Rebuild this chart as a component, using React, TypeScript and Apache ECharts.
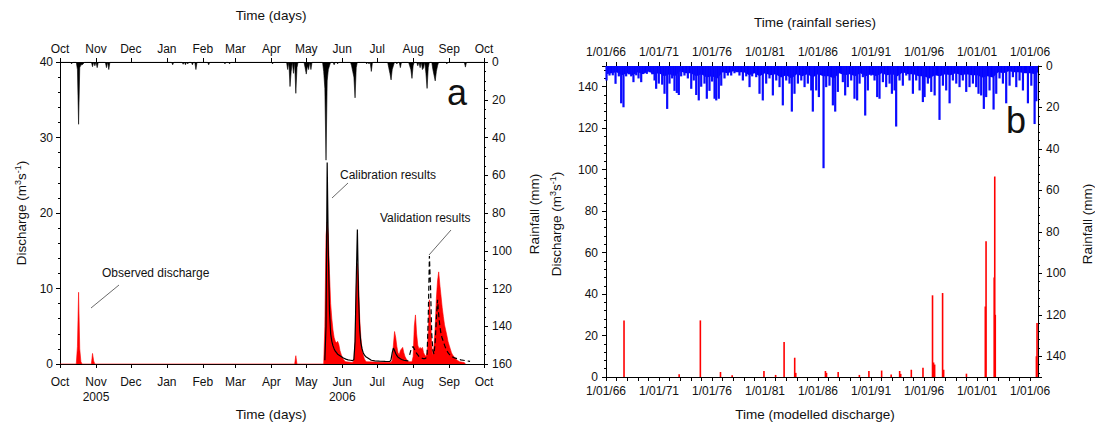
import React, { useEffect, useRef } from 'react';
import * as echarts from 'echarts';

const FONT = '"Liberation Sans", Arial, Helvetica, sans-serif';
const TXT = '#111';

// ---------- Panel a : hydrological year, day 0 = 1 Oct 2005 ----------
const monthTickDays = [0, 31, 61, 92, 123, 151, 182, 212, 243, 273, 304, 335, 365];
const monthTickLabels = ['Oct', 'Nov', 'Dec', 'Jan', 'Feb', 'Mar', 'Apr', 'May', 'Jun', 'Jul', 'Aug', 'Sep', 'Oct'];
const yearUnderMonth: Record<number, string> = { 1: '2005', 8: '2006' };

// daily rainfall (mm) on rain days; all other days 0
const rainADays = [10, 15, 16, 17, 18, 19, 20, 28, 30, 32, 40, 42, 97, 106, 108, 110, 114, 117, 128, 142, 146, 183,
  196, 198, 199, 201, 203, 204, 211, 212, 213, 214, 216, 227, 228, 229, 230, 231, 232, 236, 239, 251, 252, 253, 254, 255,
  264, 266, 268, 283, 284, 285, 286, 287, 290, 293, 301, 302, 303, 304, 308, 310, 312, 313, 315, 316, 317,
  321, 322, 323, 324, 325, 333, 349];
const rainAMm = [1, 4, 33, 3, 1.5, 1.5, 1, 2.5, 2, 3, 3, 4, 1.5, 1.2, 1.5, 1, 1.5, 4, 1.5, 1, 1, 1,
  4, 13, 5, 6, 16.6, 3, 3, 6.4, 2, 4, 4, 5, 14, 52, 10, 4, 2, 1.5, 1, 2, 5, 8, 19, 3,
  1, 1, 5, 3, 6, 9.5, 4, 2, 1, 3, 2, 4, 8.7, 2, 2, 3, 4, 3, 6, 14, 3,
  4, 7, 10, 5, 2, 1, 2.7];

// observed discharge (m3/s)
const obsADays = [0, 14, 15, 16, 17, 18, 19, 27, 28, 29, 30, 202, 203, 204, 227, 228, 229, 230, 231, 232, 233, 234, 235, 236,
  237, 238, 239, 240, 241, 242, 243, 244, 245, 246, 252, 253, 254, 255, 256, 257, 258, 259, 260, 261, 262, 263, 264,
  285, 286, 287, 288, 289, 290, 291, 292, 293, 294, 295, 296, 297, 298, 299, 300, 303, 304, 305, 306, 307, 308, 309,
  310, 311, 312, 313, 314, 315, 316, 317, 318, 319, 320, 321, 322, 323, 324, 325, 326, 327, 328, 329, 330, 331, 332,
  333, 334, 335, 336, 337, 338, 339, 340, 341, 342, 343, 344, 348, 349];
const obsAQ = [0, 0, 2.3, 9.5, 2.0, 0.3, 0, 0, 1.4, 0.4, 0, 0, 1.1, 0, 0, 5, 17, 18.8, 17, 12, 8, 6, 4.5, 3.5,
  3.0, 2.8, 3.0, 2.6, 1.8, 1.3, 0.9, 0.6, 0.4, 0.3, 0.2, 0.5, 3, 10, 13.3, 11, 6, 3.5, 2, 1.2, 0.7, 0.4, 0.3,
  0.2, 0.5, 2.5, 4.3, 3.5, 2.3, 1.5, 1.2, 1.8, 2.0, 2.2, 1.5, 1.0, 0.7, 0.5, 0.3, 0.3, 1, 5, 6.5, 4, 2.5, 2.0,
  2.2, 2.0, 2.2, 1.5, 1.2, 1.0, 1.5, 4, 8.5, 6, 2.5, 1.2, 2.5, 5, 8.7, 11, 12.2, 10.5, 9, 7.5, 6.3, 5.2, 4.5,
  3.8, 3, 2.5, 2, 1.5, 1.2, 1, 0.8, 0.6, 0.5, 0.4, 0.3, 0.2, 0];

// modelled discharge, calibration period (solid)
const calADays = [228, 229, 230, 231, 232, 233, 234, 235, 236, 237, 238, 239, 240, 241, 242, 244, 246, 248, 250, 252,
  253, 254, 255, 256, 257, 258, 259, 260, 261, 262, 263, 264, 265, 266, 268, 271, 275, 280, 284, 285, 286, 287, 288,
  289, 290, 291, 292, 294, 296, 298, 300];
const calAQ = [0.5, 5, 26.7, 15, 7, 4, 3, 2.4, 2.0, 1.7, 1.5, 1.3, 1.2, 1.1, 1.0, 0.8, 0.65, 0.55, 0.5, 0.45,
  0.6, 3, 11, 17.8, 9, 4.5, 2.8, 2.0, 1.5, 1.2, 1.0, 0.9, 0.8, 0.7, 0.5, 0.42, 0.38, 0.35, 0.33, 0.6, 1.5, 2.1, 1.8,
  1.4, 1.1, 0.9, 0.8, 0.6, 0.5, 0.45, 0.4];

// modelled discharge, validation period (dashed)
const valADays = [301, 302, 303, 304, 305, 306, 307, 308, 309, 310, 311, 312, 313, 314, 315, 316, 317, 318, 319, 320,
  321, 322, 323, 324, 325, 326, 327, 328, 329, 330, 331, 332, 333, 334, 335, 336, 337, 339, 341, 343, 345, 347, 349,
  351, 353];
const valAQ = [1.2, 1.8, 2.2, 2.3, 2.0, 1.7, 1.4, 1.2, 1.0, 0.9, 0.8, 0.75, 0.7, 0.7, 0.8, 1.2, 6, 14.3, 10, 4,
  1.8, 1.3, 3, 6, 8.5, 6.5, 5, 4, 3.4, 3, 2.5, 2.1, 1.8, 1.5, 1.3, 1.15, 1.0, 0.85, 0.75, 0.65, 0.55, 0.5, 0.45,
  0.4, 0.35];

// ---------- Panel b : long series (decimal years) ----------
const yearLabelValues = [1966, 1971, 1976, 1981, 1986, 1991, 1996, 2001, 2006];
const yearTickValues = [1966, 1967, 1968, 1969, 1970, 1971, 1972, 1973, 1974, 1975, 1976, 1977, 1978, 1979, 1980,
  1981, 1982, 1983, 1984, 1985, 1986, 1987, 1988, 1989, 1990, 1991, 1992, 1993, 1994, 1995, 1996, 1997, 1998, 1999,
  2000, 2001, 2002, 2003, 2004, 2005, 2006];

// individual rainfall spikes
const rainBYears = [1966.05, 1966.33, 1966.64, 1966.9, 1967.21, 1967.43, 1967.65, 1967.9, 1968.15, 1968.38, 1968.59,
  1968.85, 1969.07, 1969.32, 1969.54, 1969.85, 1970.1, 1970.36, 1970.58, 1970.73, 1970.98, 1971.3, 1971.52, 1971.77,
  1971.99, 1972.24, 1972.46, 1972.68, 1972.87, 1973.09, 1973.4, 1973.72, 1974.04, 1974.28, 1974.51, 1974.75, 1974.98,
  1975.29, 1975.51, 1975.76, 1976.01, 1976.24, 1976.4, 1976.64, 1976.87, 1977.18, 1977.49, 1977.81, 1978.12, 1978.34,
  1978.59, 1978.91, 1979.23, 1979.54, 1979.79, 1980.17, 1980.48, 1980.79, 1981.11, 1981.42, 1981.74, 1982.06, 1982.37,
  1982.68, 1983.0, 1983.31, 1983.53, 1983.78, 1984.1, 1984.42, 1984.73, 1985.04, 1985.36, 1985.51, 1985.83, 1986.08,
  1986.3, 1986.52, 1986.77, 1987.08, 1987.4, 1987.62, 1987.87, 1988.34, 1988.56, 1988.81, 1989.13, 1989.44, 1989.69,
  1989.92, 1990.23, 1990.45, 1990.7, 1991.02, 1991.33, 1991.58, 1991.8, 1992.12, 1992.43, 1992.75, 1992.97, 1993.22,
  1993.37, 1993.69, 1994.0, 1994.32, 1994.63, 1994.95, 1995.26, 1995.58, 1995.89, 1996.05, 1996.36, 1996.68, 1997.0,
  1997.46, 1997.78, 1998.09, 1998.41, 1998.72, 1999.04, 1999.35, 1999.66, 1999.98, 2000.29, 2000.61, 2000.92,
  2001.14, 2001.39, 2001.64, 2001.86, 2002.18, 2002.56, 2002.81, 2003.12, 2003.44, 2003.75, 2004.07, 2004.38, 2004.7,
  2005.01, 2005.33, 2005.8, 2006.12, 2006.43, 2006.59];
const rainBMm = [7, 4.6, 4.5, 8.6, 5, 18, 19.9, 5, 4, 5, 7.8,
  4.5, 6, 7.8, 3.5, 3.8, 3, 4, 7, 11, 8.5, 9, 13.4, 20.7,
  8.5, 6, 12, 13, 14, 5, 4.6, 6, 11, 7, 14, 16.6, 10,
  8.5, 15.8, 12, 7.5, 15.8, 16.6, 15.8, 9.5, 6, 4.6, 4.6, 3.5, 3,
  4.6, 7, 5, 10.2, 5, 5.4, 13.4, 16.6, 8.5, 6, 14.2, 7, 10.2,
  19, 7, 8.5, 22, 13.4, 8.5, 7, 10.2, 8.5, 11.8, 22, 11.8, 15,
  3.5, 49.3, 10.2, 9.5, 19, 22, 12.5, 7.8, 14.2, 10.2, 7, 15.8, 16.6,
  8.5, 5.4, 23.9, 11.8, 4.6, 7, 15, 15.8, 7.8, 10.2, 8.5, 13.4, 11.8,
  29.2, 7, 9.5, 4.6, 7, 13.4, 7, 11.8, 17.4, 15, 8.5, 12.5, 14.2,
  26, 9.5, 11.8, 18, 7, 8.5, 10.2, 7, 12.5, 10.2, 8.5, 10.2,
  13.4, 14.2, 20.7, 15, 11.8, 21, 13.4, 6, 8.5, 18, 9.5, 5.4, 10.2,
  7, 11.8, 18, 9.5, 28, 17];

// dense background band of frequent small rains (typical depth, mm)
const rainBandYears = [1966, 1966.5, 1967, 1967.5, 1968, 1968.5, 1969, 1969.5, 1970, 1970.5, 1971, 1971.5, 1972,
  1972.5, 1973, 1973.5, 1974, 1974.5, 1975, 1975.5, 1976, 1976.5, 1977, 1977.5, 1978, 1978.5, 1979, 1979.5, 1980,
  1980.5, 1981, 1981.5, 1982, 1982.5, 1983, 1983.5, 1984, 1984.5, 1985, 1985.5, 1986, 1986.5, 1987, 1987.5, 1988,
  1988.5, 1989, 1989.5, 1990, 1990.5, 1991, 1991.5, 1992, 1992.5, 1993, 1993.5, 1994, 1994.5, 1995, 1995.5, 1996,
  1996.5, 1997, 1997.5, 1998, 1998.5, 1999, 1999.5, 2000, 2000.5, 2001, 2001.5, 2002, 2002.5, 2003, 2003.5, 2004,
  2004.5, 2005, 2005.5, 2006, 2006.5, 2006.75];
const rainBandMm = [4, 3.5, 3, 4.5, 3.5, 4.5, 3, 4, 2.5, 4, 3.5, 5, 4, 5, 2.5, 3.5, 3.5, 5, 4, 5.5, 5, 6, 3, 3.5,
  2.5, 3, 3, 4.5, 3.5, 5, 3.5, 4.5, 4, 5.5, 4.5, 6, 4, 5, 4, 5.5, 4, 5, 5, 6, 3.5, 4.5, 4, 5, 3.5, 5, 4, 5, 3.5, 4.5,
  4, 5, 3, 4, 4, 5, 5, 6, 4.5, 5, 4, 4.5, 3.5, 4.5, 4, 4.5, 4.5, 5.5, 5, 5.5, 3, 3.5, 2.5, 3, 3, 3.5, 3.5, 4, 3];

const dischBYears = [1967.7, 1972.9, 1974.9, 1976.8, 1977.9, 1980.9, 1982.0, 1982.8, 1983.8, 1983.9, 1986.7, 1986.8,
  1987.9, 1989.9, 1990.8, 1992.0, 1992.9, 1993.7, 1993.8, 1994.8, 1995.9, 1996.8, 1996.9, 1997.0, 1997.75, 1997.85,
  2000.0, 2001.78, 2001.85, 2002.62, 2002.67, 2002.72, 2006.6, 2006.66];
const dischBQ = [27.3, 1.3, 27.3, 2.4, 0.8, 2.9, 1.0, 16.9, 9.3, 2.0, 2.9, 2.0,
  2.4, 1.0, 2.9, 3.1, 1.2, 2.9, 1.5, 3.5, 4.5, 39.4, 7.0, 6.0, 40.5, 3.5,
  1.6, 34, 65.5, 48, 96.7, 30, 10, 26];

const zip = (a: number[], b: number[]) => a.map((v, i) => [v, b[i]]);

const labelStyle = { color: TXT, fontFamily: FONT, fontSize: 12 };
const lineBlack = { show: true, onZero: false, lineStyle: { color: '#000', width: 1 } };
const tickBlack = (len = 4) => ({ show: true, inside: false, length: len, lineStyle: { color: '#000', width: 1 } });
const minor = (n: number) => ({ show: true, splitNumber: n, length: 2, lineStyle: { color: '#000', width: 1 } });

const monthFmt = (v: number) => monthTickLabels[monthTickDays.indexOf(v)] ?? '';
const monthFmtBottom = (v: number) => {
  const i = monthTickDays.indexOf(v);
  const s = monthTickLabels[i] ?? '';
  return yearUnderMonth[i] ? s + '\n' + yearUnderMonth[i] : s;
};
const yearFmt = (v: number) => '1/01/' + String(Math.round(v)).slice(2);

const supRich = { sup: { fontSize: 9, fontFamily: FONT, fill: TXT, verticalAlign: 'top', padding: [0, 0, 6, 0] } };

function buildOption() {
  const rainADaily = Array.from({ length: 366 }, (_, d) => {
    const i = rainADays.indexOf(d);
    return [d, i >= 0 ? rainAMm[i] : 0];
  });

  const text = (x: number, y: number, t: string, size = 13.5, align = 'center', rot = 0, rich?: any) => ({
    type: 'text', x, y, rotation: rot, z: 100,
    style: { text: t, fontFamily: FONT, fontSize: size, fill: TXT, align, verticalAlign: 'middle', rich },
  });
  const seg = (x1: number, y1: number, x2: number, y2: number) => ({
    type: 'line', z: 100, shape: { x1, y1, x2, y2 }, style: { stroke: '#444', lineWidth: 0.8 },
  });

  return {
    animation: false,
    backgroundColor: '#fff',
    grid: [
      { left: 60, top: 62, width: 424, height: 302 },
      { left: 606, top: 66, width: 432, height: 311 },
    ],
    xAxis: [
      {
        type: 'value', gridIndex: 0, position: 'bottom', min: 0, max: 365,
        axisLine: lineBlack, axisTick: { ...tickBlack(), customValues: monthTickDays },
        axisLabel: { ...labelStyle, customValues: monthTickDays, formatter: monthFmtBottom, margin: 10, lineHeight: 15 },
        splitLine: { show: false },
      },
      {
        type: 'value', gridIndex: 0, position: 'top', min: 0, max: 365,
        axisLine: lineBlack, axisTick: { ...tickBlack(), customValues: monthTickDays },
        axisLabel: { ...labelStyle, customValues: monthTickDays, formatter: monthFmt, margin: 7 },
        splitLine: { show: false },
      },
      {
        type: 'value', gridIndex: 1, position: 'bottom', min: 1966, max: 2006.75,
        axisLine: lineBlack, axisTick: { ...tickBlack(), customValues: yearTickValues },
        axisLabel: { ...labelStyle, customValues: yearLabelValues, formatter: yearFmt, margin: 8 },
        splitLine: { show: false },
      },
      {
        type: 'value', gridIndex: 1, position: 'top', min: 1966, max: 2006.75,
        axisLine: lineBlack, axisTick: { ...tickBlack(), customValues: yearTickValues },
        axisLabel: { ...labelStyle, customValues: yearLabelValues, formatter: yearFmt, margin: 8 },
        splitLine: { show: false },
      },
    ],
    yAxis: [
      {
        type: 'value', gridIndex: 0, position: 'left', min: 0, max: 40, interval: 10,
        axisLine: lineBlack, axisTick: tickBlack(), minorTick: minor(5),
        axisLabel: { ...labelStyle, margin: 7 }, splitLine: { show: false }, minorSplitLine: { show: false },
      },
      {
        type: 'value', gridIndex: 0, position: 'right', min: 0, max: 160, interval: 20, inverse: true,
        axisLine: lineBlack, axisTick: tickBlack(), minorTick: minor(4),
        axisLabel: { ...labelStyle, margin: 8 }, splitLine: { show: false }, minorSplitLine: { show: false },
      },
      {
        type: 'value', gridIndex: 1, position: 'left', min: 0, max: 150, interval: 20,
        axisLine: lineBlack, axisTick: tickBlack(), minorTick: minor(5),
        axisLabel: { ...labelStyle, margin: 8, showMaxLabel: false }, splitLine: { show: false },
        minorSplitLine: { show: false },
      },
      {
        type: 'value', gridIndex: 1, position: 'right', min: 0, max: 150, interval: 20, inverse: true,
        axisLine: lineBlack, axisTick: tickBlack(), minorTick: minor(5),
        axisLabel: { ...labelStyle, margin: 8, showMaxLabel: false }, splitLine: { show: false },
        minorSplitLine: { show: false },
      },
    ],
    series: [
      {
        name: 'Rainfall (a)', type: 'line', xAxisIndex: 1, yAxisIndex: 1, data: rainADaily,
        symbol: 'none', lineStyle: { color: '#000', width: 0.6 }, areaStyle: { color: '#000', opacity: 1 }, z: 3,
      },
      {
        name: 'Observed discharge', type: 'line', xAxisIndex: 0, yAxisIndex: 0, data: zip(obsADays, obsAQ),
        symbol: 'none', lineStyle: { color: '#ff0000', width: 0.6 }, areaStyle: { color: '#ff0000', opacity: 1 }, z: 2,
      },
      {
        name: 'Calibration results', type: 'line', xAxisIndex: 0, yAxisIndex: 0, data: zip(calADays, calAQ),
        symbol: 'none', lineStyle: { color: '#000', width: 1.2 }, z: 4,
      },
      {
        name: 'Validation results', type: 'line', xAxisIndex: 0, yAxisIndex: 0, data: zip(valADays, valAQ),
        symbol: 'none', lineStyle: { color: '#000', width: 1.2, type: [5, 3] }, z: 4,
      },
      {
        name: 'Rainfall band (b)', type: 'line', xAxisIndex: 3, yAxisIndex: 3, data: zip(rainBandYears, rainBandMm),
        symbol: 'none', lineStyle: { width: 0 }, areaStyle: { color: '#0000ff', opacity: 1 }, z: 3,
      },
      {
        name: 'Rainfall (b)', type: 'bar', xAxisIndex: 3, yAxisIndex: 3, data: zip(rainBYears, rainBMm),
        barWidth: 2.2, itemStyle: { color: '#0a0aff' }, z: 3,
      },
      {
        name: 'Modelled discharge', type: 'bar', xAxisIndex: 2, yAxisIndex: 2, data: zip(dischBYears, dischBQ),
        barWidth: 1.6, itemStyle: { color: '#ff0000' }, z: 2,
      },
    ],
    graphic: [
      text(271, 15, 'Time (days)'),
      text(271, 414, 'Time (days)'),
      text(21, 213, 'Discharge (m{sup|3}s{sup|-1})', 13.5, 'center', Math.PI / 2, supRich),
      text(534, 214, 'Rainfall (mm)', 13.5, 'center', Math.PI / 2),
      text(815, 22, 'Time (rainfall series)'),
      text(815, 414, 'Time (modelled discharge)'),
      text(556, 224, 'Discharge (m{sup|3}s{sup|-1})', 13.5, 'center', Math.PI / 2, supRich),
      text(1087, 224, 'Rainfall (mm)', 13.5, 'center', Math.PI / 2),
      text(457, 92, 'a', 36),
      text(1016, 120, 'b', 36),
      text(102, 273, 'Observed discharge', 12, 'left'),
      seg(91, 308, 119, 285),
      text(340, 175, 'Calibration results', 12, 'left'),
      seg(332, 198, 348, 183),
      text(380, 218, 'Validation results', 12, 'left'),
      seg(429, 255, 451, 230),
    ],
  };
}

export default function App() {
  const ref = useRef<HTMLDivElement>(null);
  useEffect(() => {
    if (!ref.current) return;
    const chart = echarts.init(ref.current, undefined, { renderer: 'svg' });
    chart.setOption(buildOption() as any);
    return () => chart.dispose();
  }, []);
  return (
    <div
      ref={ref}
      style={{ position: 'fixed', left: 0, top: 0, width: 1095, height: 427, background: '#fff' }}
    />
  );
}
